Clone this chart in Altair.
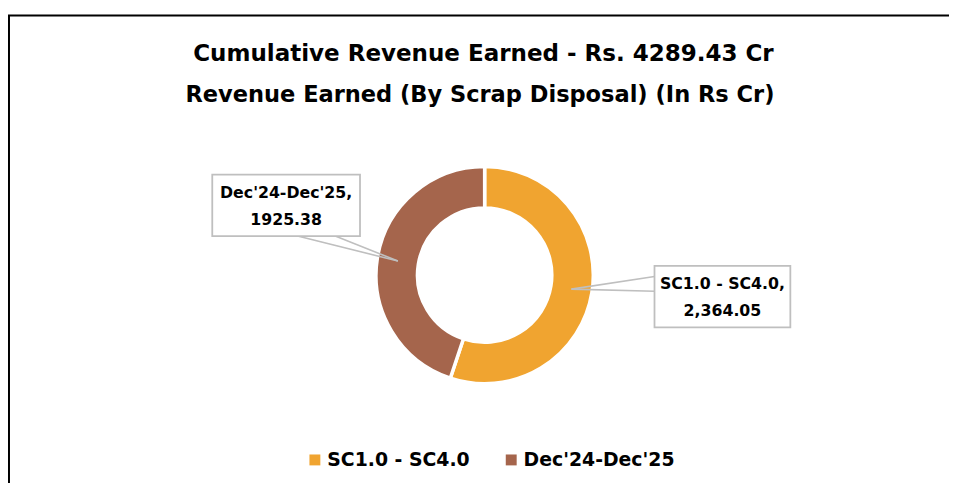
import altair as alt
import numpy as np
import pandas as pd

# ---------------- data ----------------
categories = ["SC1.0 - SC4.0", "Dec'24-Dec'25"]
values = [2364.05, 1925.38]
value_labels = ["2,364.05", "1925.38"]
colors = ["#F0A430", "#A5654C"]
title_lines = ["Cumulative Revenue Earned - Rs. 4289.43 Cr",
               "Revenue Earned (By Scrap Disposal) (In Rs Cr)"]

# ---------------- layout (chart pixel coords) ----------------
W, H = 949, 477
CX, CY = 480.7, 267.3
SW = 3.5
R_OUT, R_IN = 107.8 + SW / 2, 69.5 - SW / 2
FONT = "DejaVu Sans"
# callout boxes: x0, x1, y0, y1, and the two box-edge points the leader wedge meets
boxes = [
    dict(x0=652, x1=789, y0=258, y1=320, e1=(652, 268.7), e2=(652, 283.7)),
    dict(x0=206, x1=355, y0=166, y1=228, e1=(292, 228), e2=(330, 228)),
]

df = pd.DataFrame({"category": categories, "value": values, "idx": [0, 1]})
total = float(np.sum(values))
cum = np.cumsum([0] + values)
mid = (cum[:-1] + cum[1:]) / 2 / total * 2 * np.pi
r_mid = (R_OUT + R_IN) / 2
ax = CX + r_mid * np.sin(mid)
ay = CY - r_mid * np.cos(mid)

lead_rows, box_rows, text_rows = [], [], []
for i, b in enumerate(boxes):
    for e in (b["e1"], b["e2"]):
        lead_rows.append(dict(x=ax[i], y=ay[i], x2=e[0], y2=e[1]))
    box_rows.append(dict(x=b["x0"], x2=b["x1"], y=b["y0"], y2=b["y1"]))
    xc = (b["x0"] + b["x1"]) / 2
    text_rows.append(dict(x=xc, y=b["y0"] + 23.5, t=categories[i] + ","))
    text_rows.append(dict(x=xc, y=b["y0"] + 50.5, t=value_labels[i]))

lead_df = pd.DataFrame(lead_rows)
box_df = pd.DataFrame(box_rows)
text_df = pd.DataFrame(text_rows)
title_df = pd.DataFrame({"t": title_lines, "y": [51.3, 92.7], "x": [479.5, 476],
                         "fs": [23.2, 22.7]})

px = lambda f: alt.X(f + ":Q", scale=None, axis=None)
py = lambda f: alt.Y(f + ":Q", scale=None, axis=None)

arc = alt.Chart(df).mark_arc(radius=R_OUT, radius2=R_IN, stroke="white", strokeWidth=SW).encode(
    theta=alt.Theta("value:Q", stack=True),
    color=alt.Color("category:N",
                    scale=alt.Scale(domain=categories, range=colors),
                    sort=categories,
                    legend=alt.Legend(orient="none", direction="horizontal",
                                      legendX=300, legendY=444, title=None,
                                      symbolType="square", symbolSize=121,
                                      symbolStrokeWidth=0,
                                      labelFont=FONT, labelFontSize=19,
                                      labelFontWeight="bold", labelColor="#000000",
                                      labelOffset=3, columnPadding=32, padding=0)),
    order=alt.Order("idx:Q"),
    x=alt.value(CX), y=alt.value(CY),
)

leaders = alt.Chart(lead_df).mark_rule(color="#BFBFBF", strokeWidth=1.6).encode(
    x=px("x"), y=py("y"), x2="x2:Q", y2="y2:Q")

rects = alt.Chart(box_df).mark_rect(fill="white", stroke="#BFBFBF", strokeWidth=1.8).encode(
    x=px("x"), x2="x2:Q", y=py("y"), y2="y2:Q")

labels = alt.Chart(text_df).mark_text(font=FONT, fontSize=15.9, fontWeight="bold",
                                       color="#000000", baseline="alphabetic").encode(
    x=px("x"), y=py("y"), text="t:N")

titles = alt.Chart(title_df).mark_text(font=FONT, fontWeight="bold",
                                        color="#000000", baseline="alphabetic").encode(
    x=px("x"), y=py("y"), text="t:N", size=alt.Size("fs:Q", scale=None, legend=None))

border = alt.Chart(pd.DataFrame({"a": [0]})).mark_rule(color="#000000", strokeWidth=2).encode(
    x=alt.value(1), x2=alt.value(1), y=alt.value(5.5), y2=alt.value(H))
border_top = alt.Chart(pd.DataFrame({"a": [0]})).mark_rule(color="#000000", strokeWidth=2).encode(
    x=alt.value(0), x2=alt.value(W), y=alt.value(5.5), y2=alt.value(5.5))

chart = alt.layer(border, border_top, titles, arc, leaders, rects, labels).properties(
    width=W, height=H, autosize=alt.AutoSizeParams(type="none"), padding=0,
).configure_view(stroke=None).resolve_scale(x="independent", y="independent")

chart.save("out.html", embed_options={"renderer": "svg", "actions": False})
